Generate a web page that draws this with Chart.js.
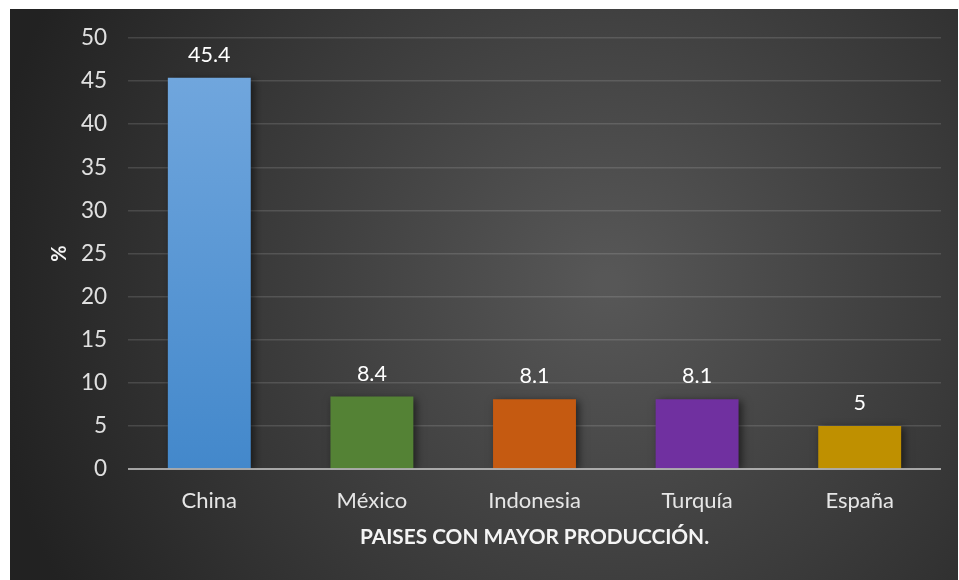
<!DOCTYPE html>
<html>
<head>
<meta charset="utf-8">
<script src="https://cdn.jsdelivr.net/npm/chart.js@4.4.1/dist/chart.umd.min.js"></script>
<style>
  html, body { margin: 0; padding: 0; background: #fff; }
  #wrap { position: absolute; left: 10px; top: 9px; width: 948px; height: 571px; }
</style>
</head>
<body>
<div id="wrap"><canvas id="prodChart"></canvas></div>
<script>
const countries = ['China', 'México', 'Indonesia', 'Turquía', 'España'];
const shares = [45.4, 8.4, 8.1, 8.1, 5];
const yTicks = [0, 5, 10, 15, 20, 25, 30, 35, 40, 45, 50];
const barColors = ['#5b9bd5', '#548235', '#c55a11', '#7030a0', '#bf9000'];

const FONT = 'Lato, "Open Sans", sans-serif';

// dark radial backdrop behind the whole chart
const backdrop = {
  id: 'backdrop',
  beforeDraw(chart) {
    const { ctx, width, height } = chart;
    const g = ctx.createRadialGradient(width * 0.63, height * 0.48, 10, width * 0.63, height * 0.48, width * 0.66);
    g.addColorStop(0, '#575757');
    g.addColorStop(0.55, '#3a3a3a');
    g.addColorStop(1, '#222222');
    ctx.save();
    ctx.fillStyle = g;
    ctx.fillRect(0, 0, width, height);
    ctx.restore();
  }
};

// soft shadow under the bars, then zero line and value labels on top
const barExtras = {
  id: 'barExtras',
  beforeDatasetsDraw(chart) {
    const ctx = chart.ctx;
    ctx.save();
    ctx.shadowColor = 'rgba(0,0,0,0.55)';
    ctx.shadowBlur = 8;
    ctx.shadowOffsetX = 3;
    ctx.shadowOffsetY = 2;
  },
  afterDatasetsDraw(chart) {
    const ctx = chart.ctx;
    ctx.restore();
    const y = chart.scales.y;
    const area = chart.chartArea;
    const y0 = y.getPixelForValue(0);
    ctx.save();
    ctx.strokeStyle = 'rgba(215,215,215,0.7)';
    ctx.lineWidth = 2;
    ctx.beginPath();
    ctx.moveTo(area.left, y0);
    ctx.lineTo(area.right, y0);
    ctx.stroke();

    ctx.fillStyle = '#ffffff';
    ctx.font = '21.5px ' + FONT;
    ctx.textAlign = 'center';
    ctx.textBaseline = 'alphabetic';
    chart.getDatasetMeta(0).data.forEach((bar, i) => {
      ctx.fillText(String(shares[i]), bar.x, bar.y - 16);
    });
    ctx.restore();
  }
};

const ctx = document.getElementById('prodChart').getContext('2d');

function chinaFill(context) {
  const chart = context.chart;
  const area = chart.chartArea;
  if (!area) return barColors[0];
  const ys = chart.scales.y;
  const g = chart.ctx.createLinearGradient(0, ys.getPixelForValue(shares[0]), 0, ys.getPixelForValue(0));
  g.addColorStop(0, '#70a6dd');
  g.addColorStop(1, '#4388cb');
  return g;
}

new Chart(ctx, {
  type: 'bar',
  data: {
    labels: countries,
    datasets: [{
      label: '%',
      data: shares,
      backgroundColor: ctx2 => ctx2.dataIndex === 0 ? chinaFill(ctx2) : barColors[ctx2.dataIndex],
      borderWidth: 0,
      categoryPercentage: 1,
      barPercentage: 0.51
    }]
  },
  options: {
    responsive: true,
    maintainAspectRatio: false,
    animation: false,
    layout: { padding: { top: 29, right: 17, left: 0, bottom: 0 } },
    plugins: {
      legend: { display: false },
      tooltip: { enabled: false }
    },
    scales: {
      x: {
        grid: { display: false, drawTicks: false },
        border: { display: false },
        ticks: {
          color: '#e6e6e6',
          font: { family: FONT, size: 22 },
          padding: 19
        },
        title: {
          display: true,
          text: 'PAISES CON MAYOR PRODUCCIÓN.',
          color: '#f4f4f4',
          font: { family: FONT, size: 20.8, weight: 'bold' },
          padding: { top: 0, bottom: 30 }
        },
        afterFit(scale) {
          scale.height = 111;
          scale.paddingLeft = 0;
          scale.paddingRight = 0;
        }
      },
      y: {
        min: 0,
        max: 50,
        afterBuildTicks(scale) { scale.ticks = yTicks.map(v => ({ value: v })); },
        grid: {
          color: ctx3 => ctx3.tick && ctx3.tick.value === 0 ? 'rgba(0,0,0,0)' : 'rgba(255,255,255,0.13)',
          lineWidth: 1.5,
          drawTicks: false
        },
        border: { display: false },
        ticks: {
          color: '#e0e0e0',
          font: { family: FONT, size: 22.5 },
          padding: 21
        },
        title: {
          display: true,
          text: '%',
          color: '#f4f4f4',
          font: { family: FONT, size: 20, weight: 'bold' },
          padding: { top: 38, bottom: 0 }
        },
        afterFit(scale) {
          scale.width = 118;
          scale.paddingTop = 0;
          scale.paddingBottom = 0;
        }
      }
    }
  },
  plugins: [backdrop, barExtras]
});
</script>
</body>
</html>
